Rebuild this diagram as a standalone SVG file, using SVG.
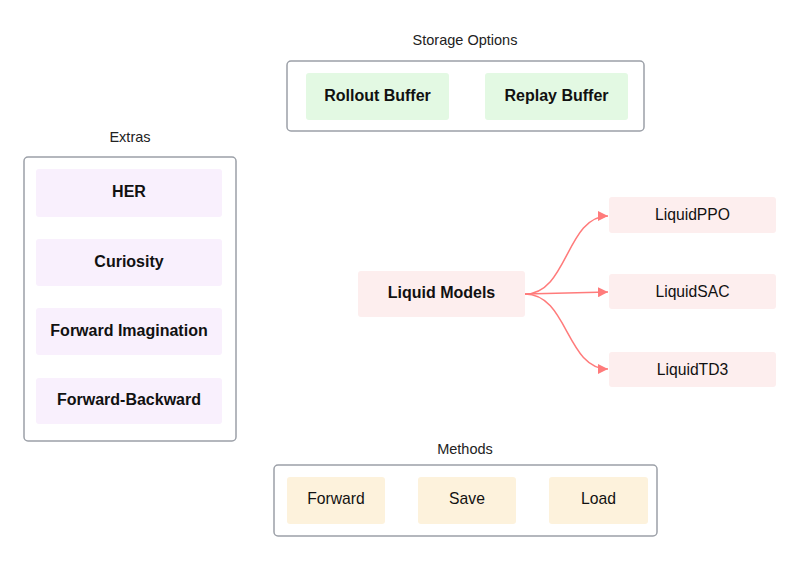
<svg xmlns="http://www.w3.org/2000/svg" width="800" height="561" viewBox="0 0 800 561">
<defs>
<style>
.container{fill:#ffffff;stroke:#9ca0a8;stroke-width:1.5}
.title{font-family:"Liberation Sans",Arial,sans-serif;font-size:14.5px;fill:#222;text-anchor:middle}
.b{font-family:"Liberation Sans",Arial,sans-serif;font-size:16px;font-weight:bold;fill:#111;text-anchor:middle}
.r{font-family:"Liberation Sans",Arial,sans-serif;font-size:15.7px;fill:#111;text-anchor:middle}
.green{fill:#e3f9e3}
.purple{fill:#f9f0fd}
.pink{fill:#fdeeee}
.yellow{fill:#fdf2dc}
.edge{fill:none;stroke:#ff7b7b;stroke-width:1.5}
</style>
<marker id="arr" viewBox="0 0 10 10" refX="10" refY="5" markerWidth="10" markerHeight="10" markerUnits="userSpaceOnUse" orient="auto">
<path d="M0,0 L10,5 L0,10 z" fill="#ff7b7b"/>
</marker>
</defs>
<rect width="800" height="561" fill="#ffffff"/>

<g id="storage">
<text class="title" x="465" y="45">Storage Options</text>
<rect class="container" x="287" y="61" width="357" height="70" rx="4"/>
</g>
<g id="rollout"><rect class="green" x="306" y="73" width="143" height="47" rx="3"/><text class="b" x="377.5" y="101">Rollout Buffer</text></g>
<g id="replay"><rect class="green" x="485" y="73" width="143" height="47" rx="3"/><text class="b" x="556.5" y="101">Replay Buffer</text></g>

<g id="extras">
<text class="title" x="130" y="142">Extras</text>
<rect class="container" x="24" y="157" width="212" height="284" rx="4"/>
</g>
<g id="her"><rect class="purple" x="36" y="169" width="186" height="48" rx="3"/><text class="b" x="129" y="197">HER</text></g>
<g id="curiosity"><rect class="purple" x="36" y="239" width="186" height="47" rx="3"/><text class="b" x="129" y="267">Curiosity</text></g>
<g id="fwdimag"><rect class="purple" x="36" y="308" width="186" height="47" rx="3"/><text class="b" x="129" y="336">Forward Imagination</text></g>
<g id="fwdback"><rect class="purple" x="36" y="378" width="186" height="46" rx="3"/><text class="b" x="129" y="405">Forward-Backward</text></g>

<g id="methods">
<text class="title" x="465" y="454">Methods</text>
<rect class="container" x="274" y="465" width="383" height="71" rx="4"/>
</g>
<g id="forward"><rect class="yellow" x="287" y="477" width="98" height="47" rx="3"/><text class="r" x="336" y="504">Forward</text></g>
<g id="save"><rect class="yellow" x="418" y="477" width="98" height="47" rx="3"/><text class="r" x="467" y="504">Save</text></g>
<g id="load"><rect class="yellow" x="549" y="477" width="99" height="47" rx="3"/><text class="r" x="598.5" y="504">Load</text></g>

<g id="liquid"><rect class="pink" x="358" y="271" width="167" height="46" rx="3"/><text class="b" x="441.5" y="298">Liquid Models</text></g>
<g id="ppo"><rect class="pink" x="609" y="197" width="167" height="36" rx="3"/><text class="r" x="692.5" y="220">LiquidPPO</text></g>
<g id="sac"><rect class="pink" x="609" y="274" width="167" height="35" rx="3"/><text class="r" x="692.5" y="297">LiquidSAC</text></g>
<g id="td3"><rect class="pink" x="609" y="352" width="167" height="35" rx="3"/><text class="r" x="692.5" y="375">LiquidTD3</text></g>

<g id="connectors">
<path class="edge" marker-end="url(#arr)" d="M525,294 C568,294 566,216 608,216"/>
<path class="edge" marker-end="url(#arr)" d="M525,294 L608,292"/>
<path class="edge" marker-end="url(#arr)" d="M525,294 C568,294 566,369 608,369"/>
</g>
</svg>
